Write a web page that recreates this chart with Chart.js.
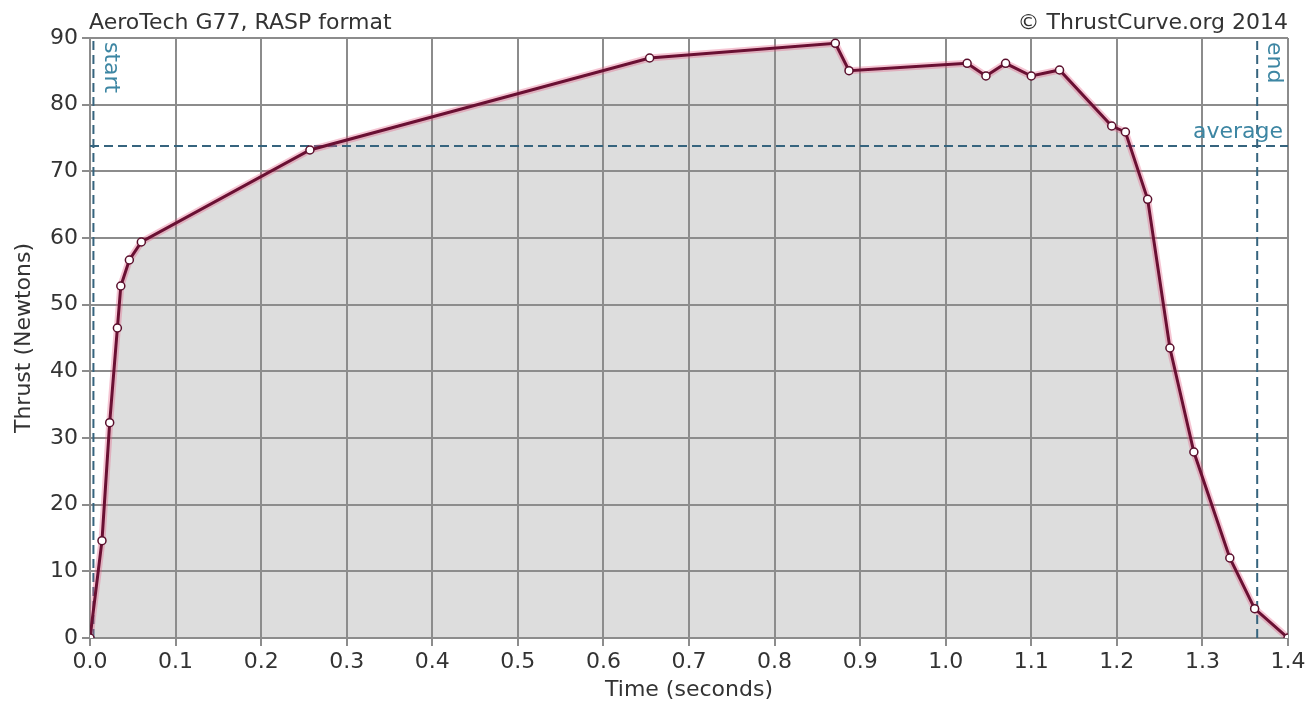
<!DOCTYPE html>
<html>
<head>
<meta charset="utf-8">
<title>AeroTech G77 thrust curve</title>
<script src="https://cdn.jsdelivr.net/npm/chart.js@4.4.1/dist/chart.umd.min.js"></script>
<style>
  html, body { margin: 0; padding: 0; background: #ffffff; }
  #wrap { width: 1313px; height: 706px; }
</style>
</head>
<body>
<div id="wrap"><canvas id="thrust" width="1313" height="706"></canvas></div>
<script>
// Thrust curve samples (RASP format): time in seconds, thrust in newtons
const timeSec = [0.000, 0.014, 0.023, 0.032, 0.036, 0.046, 0.060, 0.257, 0.654, 0.871, 0.887,
                 1.025, 1.047, 1.070, 1.100, 1.133, 1.194, 1.210, 1.236, 1.262, 1.290, 1.332, 1.361, 1.400];
const thrustN = [0.0, 14.6, 32.3, 46.5, 52.8, 56.7, 59.4, 73.2, 87.0, 89.2, 85.1,
                 86.2, 84.3, 86.2, 84.3, 85.2, 76.8, 75.9, 65.8, 43.5, 27.9, 12.0, 4.4, 0.0];

// Burn markers
const burnStart = 0.004;
const burnEnd = 1.364;
const avgThrust = 73.8;

// Axis ticks
const timeTicks = [0.0, 0.1, 0.2, 0.3, 0.4, 0.5, 0.6, 0.7, 0.8, 0.9, 1.0, 1.1, 1.2, 1.3, 1.4];
const thrustTicks = [0, 10, 20, 30, 40, 50, 60, 70, 80, 90];

const titleLeft = 'AeroTech G77, RASP format';
const titleRight = '\u00A9 ThrustCurve.org 2014';

const FONT = '"DejaVu Sans", "Liberation Sans", sans-serif';
const TEXT = '#333333';
const GRID = '#8c8c8c';
const MARK = '#36647e';
const MARK_TEXT = '#3d86a3';

const curve = timeSec.map((t, i) => ({ x: t, y: thrustN[i] }));

// Header texts and marker labels drawn against the chart's own scales
const annotations = {
  id: 'annotations',
  afterDatasetsDraw(chart) {
    const { ctx, chartArea, scales } = chart;
    const x = scales.x, y = scales.y;
    ctx.save();
    ctx.font = '22px ' + FONT;
    ctx.fillStyle = TEXT;
    ctx.textBaseline = 'alphabetic';
    ctx.textAlign = 'left';
    ctx.fillText(titleLeft, chartArea.left - 1, 29);
    ctx.textAlign = 'right';
    ctx.fillText(titleRight, chartArea.right, 29);

    ctx.fillStyle = MARK_TEXT;
    // "average" above the average line, at the right edge
    ctx.textAlign = 'right';
    ctx.fillText('average', chartArea.right - 5, y.getPixelForValue(avgThrust) - 8);

    // rotated "start" / "end" beside the vertical markers
    const vertical = (label, t) => {
      ctx.save();
      ctx.translate(x.getPixelForValue(t) + 6, chartArea.top + 4);
      ctx.rotate(Math.PI / 2);
      ctx.textAlign = 'left';
      ctx.textBaseline = 'bottom';
      ctx.fillText(label, 0, 0);
      ctx.restore();
    };
    vertical('start', burnStart);
    vertical('end', burnEnd);
    ctx.restore();
  }
};

new Chart(document.getElementById('thrust'), {
  type: 'scatter',
  data: {
    datasets: [
      {
        label: 'Thrust',
        data: curve,
        showLine: true,
        borderColor: '#6a1033',
        borderWidth: 3,
        backgroundColor: '#dddddd',
        fill: 'origin',
        pointRadius: 4,
        pointBackgroundColor: '#ffffff',
        pointBorderColor: '#5a0f2c',
        pointBorderWidth: 1.5,
        tension: 0,
        order: 0
      },
      {
        label: 'glow',
        data: curve,
        showLine: true,
        borderColor: 'rgba(225, 90, 130, 0.35)',
        borderWidth: 7,
        pointRadius: 0,
        fill: false,
        order: 1
      },
      {
        label: 'start',
        data: [{ x: burnStart, y: 0 }, { x: burnStart, y: 90 }],
        showLine: true, borderColor: MARK, borderWidth: 2, borderDash: [9, 5],
        pointRadius: 0, fill: false, order: 2
      },
      {
        label: 'end',
        data: [{ x: burnEnd, y: 0 }, { x: burnEnd, y: 90 }],
        showLine: true, borderColor: MARK, borderWidth: 2, borderDash: [9, 5],
        pointRadius: 0, fill: false, order: 2
      },
      {
        label: 'average',
        data: [{ x: 0, y: avgThrust }, { x: 1.4, y: avgThrust }],
        showLine: true, borderColor: MARK, borderWidth: 2, borderDash: [9, 5],
        pointRadius: 0, fill: false, order: 2
      }
    ]
  },
  options: {
    responsive: false,
    animation: false,
    events: [],
    layout: { padding: { top: 38, right: 25, left: 0, bottom: 0 } },
    plugins: {
      legend: { display: false },
      tooltip: { enabled: false },
      filler: { drawTime: 'beforeDraw' }
    },
    scales: {
      x: {
        type: 'linear',
        min: timeTicks[0],
        max: timeTicks[timeTicks.length - 1],
        afterBuildTicks(scale) { scale.ticks = timeTicks.map(v => ({ value: v })); },
        afterFit(scale) { scale.height = 68; },
        ticks: {
          font: { family: FONT, size: 22 },
          color: TEXT,
          padding: 3,
          maxRotation: 0,
          autoSkip: false,
          callback: v => Number(v).toFixed(1)
        },
        grid: { color: GRID, lineWidth: 2, tickLength: 8, tickColor: GRID },
        border: { color: GRID, width: 2 },
        title: {
          display: true,
          text: 'Time (seconds)',
          font: { family: FONT, size: 22 },
          color: TEXT,
          padding: 3
        }
      },
      y: {
        type: 'linear',
        min: thrustTicks[0],
        max: thrustTicks[thrustTicks.length - 1],
        afterBuildTicks(scale) { scale.ticks = thrustTicks.map(v => ({ value: v })); },
        afterFit(scale) { scale.width = 90; },
        ticks: {
          font: { family: FONT, size: 22 },
          color: TEXT,
          padding: 4,
          autoSkip: false
        },
        grid: { color: GRID, lineWidth: 2, tickLength: 8, tickColor: GRID },
        border: { color: GRID, width: 2 },
        title: {
          display: true,
          text: 'Thrust (Newtons)',
          font: { family: FONT, size: 22 },
          color: TEXT,
          padding: 11
        }
      }
    }
  },
  plugins: [annotations]
});
</script>
</body>
</html>
